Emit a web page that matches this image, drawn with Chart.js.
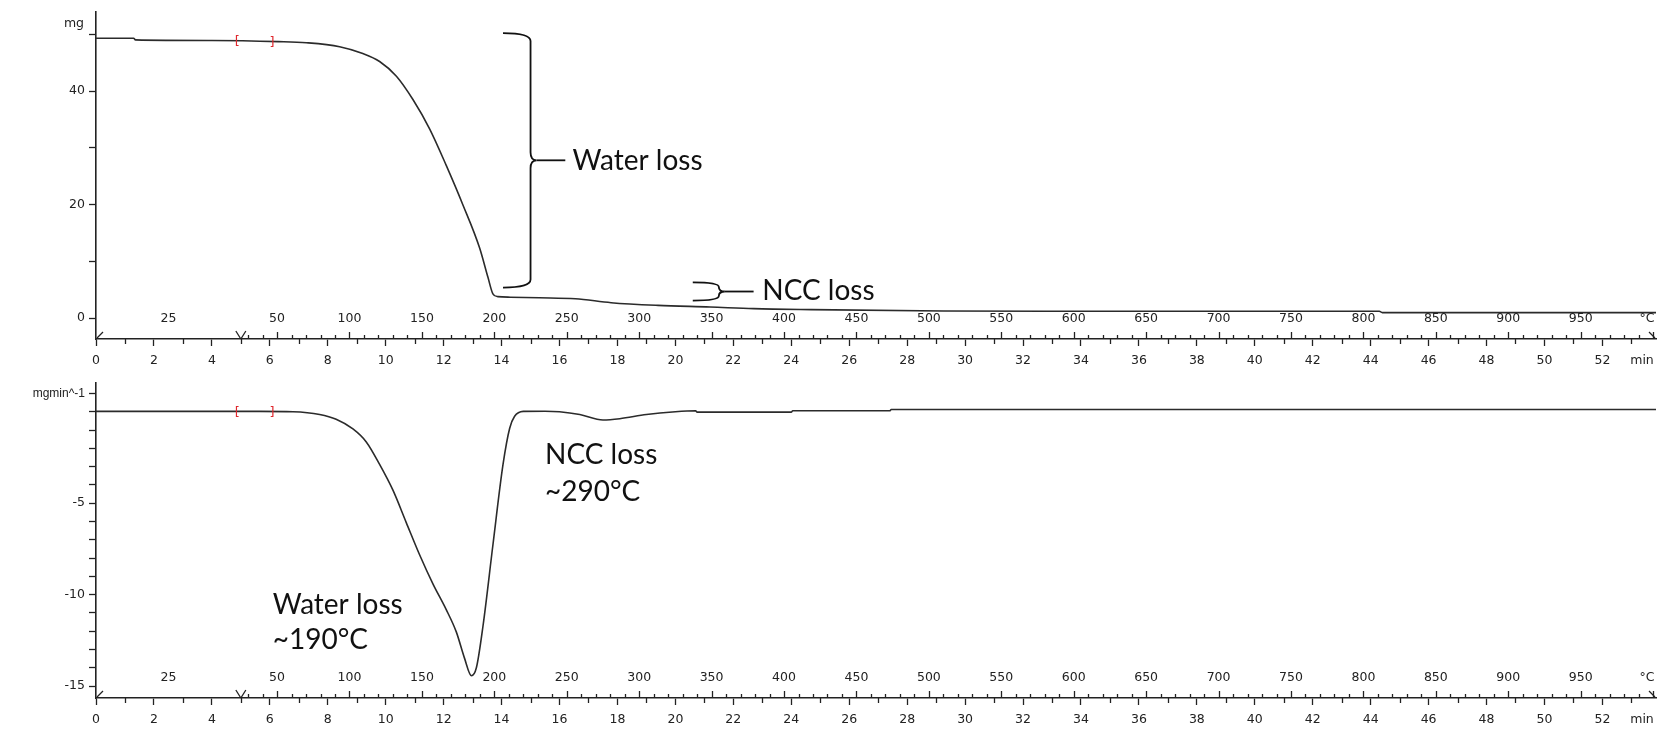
<!DOCTYPE html>
<html>
<head>
<meta charset="utf-8">
<script src="https://cdn.jsdelivr.net/npm/chart.js@4.4.1/dist/chart.umd.min.js"></script>
<style>
  html, body { margin: 0; padding: 0; background: #ffffff; }
  #wrap { position: relative; width: 1663px; height: 731px; overflow: hidden; }
  canvas { position: absolute; left: 0; }
  #tga { top: 0; }
  #dtg { top: 372px; }
</style>
</head>
<body>
<div id="wrap">
  <canvas id="tga" width="1663" height="372"></canvas>
  <canvas id="dtg" width="1663" height="359"></canvas>
</div>
<script>
// ---- TGA: sample mass (mg) against time (min)
const tgaTime = [0, 1.30, 1.36, 4.0, 6.3, 7.26, 8.41, 9.21, 9.79, 10.37, 10.94, 11.52, 12.09, 12.67,
                 13.24, 13.53, 13.70, 13.87, 14.3, 15.3, 16.55, 17.78, 19.4, 21.2, 22.7, 24.7, 29.25,
                 34.3, 44.3, 44.4, 53.85];
const tgaMass = [49.3, 49.3, 49.0, 48.9, 48.7, 48.5, 47.8, 46.6, 45.2, 42.6, 38.5, 33.3, 26.9, 19.9,
                 12.4, 7.2, 4.3, 3.8, 3.7, 3.6, 3.43, 2.73, 2.26, 1.97, 1.68, 1.51, 1.27,
                 1.22, 1.22, 0.99, 0.99];

// ---- DTG: mass change rate (mg/min) against time (min)
const dtgTime = [0, 5.64, 6.8, 7.72, 8.29, 8.87, 9.33, 9.79, 10.25, 10.71, 11.17, 11.63, 12.09, 12.44,
                 12.72, 12.96, 13.13, 13.36, 13.70, 14.05, 14.28, 14.45, 14.75, 15.5, 16.0, 16.7, 17.5,
                 18.08, 19.0, 20.0, 20.7, 20.75, 24.0, 24.05, 27.4, 27.45, 53.85];
const dtgRate = [0.02, 0.02, 0.0, -0.15, -0.41, -0.94, -1.65, -2.88, -4.29, -6.06, -7.82, -9.41, -10.82, -12.05,
                 -13.47, -14.43, -14.0, -11.7, -7.3, -2.88, -0.9, -0.25, 0.02, 0.03, 0.0, -0.15, -0.45,
                 -0.38, -0.15, 0.0, 0.05, -0.02, -0.02, 0.05, 0.05, 0.12, 0.12];

// ---- evaluation range markers [ ] (time, value)
const tgaMarks = [[4.88, 48.9, '['], [6.08, 48.75, ']']];
const dtgMarks = [[4.88, 0.02, '['], [6.08, 0.02, ']']];

// ---- temperature axis labels (°C); heating program: 25 °C hold to 5 min, then 20 K/min
const tempLabels = [25, 50, 100, 150, 200, 250, 300, 350, 400, 450, 500, 550, 600, 650, 700, 750, 800, 850, 900, 950];
const HOLD_END = 5, T_START = 25, RATE = 20;
function tempToMin(T) { return T === T_START ? HOLD_END / 2 : HOLD_END + (T - T_START) / RATE; }

const X_MAX = 53.85;
const INK = '#222222';
const TICK_FAMILY = '"DejaVu Sans", sans-serif';
const TICK_SIZE = 12.5;
const TICK_FONT = TICK_SIZE + 'px ' + TICK_FAMILY;
const UNIT_FONT = '12px "Liberation Sans", Arial, sans-serif';
const NOTE_FONT = '28px Lato, "Open Sans", sans-serif';

function xy(ts, vs) { return ts.map((t, i) => ({ x: t, y: vs[i] })); }

// axis decorations: minor minute ticks, temperature ticks/labels, segment marks, units
const thermoAxis = {
  id: 'thermoAxis',
  afterDraw(chart, args, opts) {
    const { ctx, chartArea, scales: { x, y } } = chart;
    const ay = chartArea.bottom;
    ctx.save();
    ctx.strokeStyle = INK;
    ctx.fillStyle = INK;
    ctx.lineWidth = 1.3;
    const seg = (x1, y1, x2, y2) => { ctx.beginPath(); ctx.moveTo(x1, y1); ctx.lineTo(x2, y2); ctx.stroke(); };
    // odd minutes, short ticks below axis
    for (let m = 1; m < X_MAX; m += 2) {
      const px = Math.round(x.getPixelForValue(m)) + 0.5;
      seg(px, ay, px, ay + 5);
    }
    // temperature ticks above axis, every 10 °C
    for (let T = 30; tempToMin(T) <= X_MAX; T += 10) {
      const px = Math.round(x.getPixelForValue(tempToMin(T))) + 0.5;
      seg(px, ay, px, ay - (T % 50 === 0 ? 7 : 4));
    }
    // segment marks
    const x0 = x.getPixelForValue(0), x5 = x.getPixelForValue(HOLD_END), xe = x.getPixelForValue(X_MAX);
    seg(x0 + 1, ay - 1, x0 + 7, ay - 7);
    seg(x5, ay, x5 - 5, ay - 8);
    seg(x5, ay, x5 + 5, ay - 8);
    seg(xe - 1, ay - 1, xe - 7, ay - 7);
    // temperature labels
    ctx.font = TICK_FONT;
    ctx.textAlign = 'center';
    ctx.textBaseline = 'middle';
    tempLabels.forEach(T => ctx.fillText(String(T), x.getPixelForValue(tempToMin(T)), ay - 20));
    ctx.fillText('°C', chartArea.right - 9, ay - 20);
    ctx.fillText('min', chartArea.right - 14, ay + 22);
    // unit label above the y axis
    if (opts.unit) {
      ctx.font = TICK_FONT;
      ctx.textAlign = 'right';
      ctx.fillText(opts.unit, chartArea.left - 12, chartArea.top + 12);
    }
    // evaluation range markers
    ctx.fillStyle = '#e0282e';
    ctx.font = '13px "DejaVu Sans", sans-serif';
    ctx.textAlign = 'center';
    (opts.marks || []).forEach(([t, v, s]) => ctx.fillText(s, x.getPixelForValue(t), y.getPixelForValue(v) + 1));
    ctx.restore();
  }
};

// right-pointing curly brace with a leader line to its label
function drawBrace(ctx, xs, xEnd, yTop, yBot, xTip, xLine) {
  const mid = (yTop + yBot) / 2;
  const r = Math.min(8, (yBot - yTop) / 4);
  ctx.beginPath();
  ctx.moveTo(xEnd, yTop);
  ctx.quadraticCurveTo(xs, yTop, xs, yTop + r);
  ctx.lineTo(xs, mid - r);
  ctx.quadraticCurveTo(xs, mid, xTip, mid);
  ctx.quadraticCurveTo(xs, mid, xs, mid + r);
  ctx.lineTo(xs, yBot - r);
  ctx.quadraticCurveTo(xs, yBot, xEnd, yBot);
  ctx.stroke();
  ctx.beginPath();
  ctx.moveTo(xTip, mid);
  ctx.lineTo(xLine, mid);
  ctx.stroke();
}

const notes = {
  id: 'notes',
  afterDraw(chart, args, opts) {
    const { ctx, scales: { x, y } } = chart;
    ctx.save();
    ctx.strokeStyle = '#111';
    ctx.fillStyle = '#111';
    ctx.lineWidth = 1.8;
    (opts.braces || []).forEach(b => {
      drawBrace(ctx, x.getPixelForValue(b.spine), x.getPixelForValue(b.ends),
        y.getPixelForValue(b.top), y.getPixelForValue(b.bottom),
        x.getPixelForValue(b.spine) + 6, x.getPixelForValue(b.lead));
    });
    ctx.font = NOTE_FONT;
    ctx.textAlign = 'left';
    ctx.textBaseline = 'middle';
    (opts.texts || []).forEach(n => ctx.fillText(n.text, x.getPixelForValue(n.t), y.getPixelForValue(n.v)));
    ctx.restore();
  }
};

function xScale() {
  return {
    type: 'linear', min: 0, max: X_MAX,
    afterFit: s => { s.height = 33; },
    ticks: { stepSize: 2, includeBounds: false, autoSkip: false, maxRotation: 0,
      color: INK, font: { family: TICK_FAMILY, size: TICK_SIZE }, padding: 7 },
    grid: { drawOnChartArea: false, drawTicks: true, tickLength: 7, color: INK, tickWidth: 1.3 },
    border: { display: true, color: INK, width: 1.6 }
  };
}

function yScale(min, max, step, labelFn, unitValue) {
  return {
    type: 'linear', min, max,
    afterFit: s => { s.width = 96; },
    ticks: { stepSize: step, includeBounds: false, autoSkip: false, callback: labelFn,
      color: INK, padding: 4,
      font: ctx => (ctx.tick && ctx.tick.value === unitValue
        ? { family: '"Liberation Sans", Arial, sans-serif', size: 12 }
        : { family: TICK_FAMILY, size: TICK_SIZE }) },
    grid: { drawOnChartArea: false, drawTicks: true, tickLength: 7, color: INK, tickWidth: 1.3 },
    border: { display: true, color: INK, width: 1.6 }
  };
}

function lineSet(data) {
  return {
    data, borderColor: '#2b2b2b', borderWidth: 1.6, pointRadius: 0,
    cubicInterpolationMode: 'monotone', fill: false
  };
}

const common = {
  responsive: false, animation: false, devicePixelRatio: 1,
  plugins: { legend: { display: false }, tooltip: { enabled: false } },
};

new Chart(document.getElementById('tga'), {
  type: 'line',
  data: { datasets: [lineSet(xy(tgaTime, tgaMass))] },
  options: {
    ...common,
    layout: { padding: { top: 8, right: 7, bottom: 0, left: 0 } },
    scales: {
      x: xScale(),
      y: yScale(-3.66, 54, 10, v => (v % 20 === 0 ? String(v) : ''), null)
    },
    plugins: {
      ...common.plugins,
      thermoAxis: { unit: 'mg', marks: tgaMarks },
      notes: {
        braces: [
          { spine: 15.0, ends: 14.05, top: 50.2, bottom: 5.4, lead: 16.2 },
          { spine: 21.5, ends: 20.6, top: 6.3, bottom: 3.1, lead: 22.7 }
        ],
        texts: [
          { text: 'Water loss', t: 16.45, v: 27.6 },
          { text: 'NCC loss', t: 23.0, v: 4.8 }
        ]
      }
    }
  },
  plugins: [thermoAxis, notes]
});

new Chart(document.getElementById('dtg'), {
  type: 'line',
  data: { datasets: [lineSet(xy(dtgTime, dtgRate))] },
  options: {
    ...common,
    layout: { padding: { top: 1, right: 7, bottom: 0, left: 0 } },
    scales: {
      x: xScale(),
      y: yScale(-15.65, 1.56, 1, v => (v === 1 ? 'mgmin^-1' : (v % 5 === 0 && v !== 0 ? String(v) : '')), 1)
    },
    plugins: {
      ...common.plugins,
      thermoAxis: { marks: dtgMarks },
      notes: {
        texts: [
          { text: 'NCC loss', t: 15.5, v: -2.35 },
          { text: '~290°C', t: 15.5, v: -4.4 },
          { text: 'Water loss', t: 6.1, v: -10.55 },
          { text: '~190°C', t: 6.1, v: -12.5 }
        ]
      }
    }
  },
  plugins: [thermoAxis, notes]
});
</script>
</body>
</html>
